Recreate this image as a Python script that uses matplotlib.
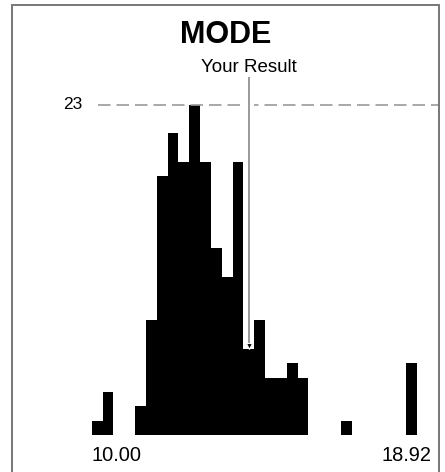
import numpy as np
import matplotlib.pyplot as plt
import matplotlib.patheffects as pe
from matplotlib.patches import Rectangle

# histogram data
x_min = 10.00
x_max = 18.92
counts = [1, 3, 0, 0, 2, 8, 18, 21, 19, 23, 19, 13, 11, 19, 6,
          8, 4, 4, 5, 4, 0, 0, 0, 1, 0, 0, 0, 0, 0, 5]
mode_count = 23
your_result = 14.32
title = 'MODE'
result_label = 'Your Result'

W, H = 445, 472
plt.rcParams['font.family'] = ['Liberation Sans', 'DejaVu Sans']

fig = plt.figure(figsize=(W / 100, H / 100), dpi=100)

# axes placed in pixels
left, right, bottom, top = 91.7, 416.7, 435, 104.5
ax = fig.add_axes([left / W, 1 - bottom / H, (right - left) / W, (bottom - top) / H])
edges = np.linspace(x_min, x_max, len(counts) + 1)
ax.stairs(counts, edges, fill=True, color='black')
ax.set_xlim(x_min, x_max)
ax.set_ylim(0, mode_count)
ax.axis('off')

# dashed line at the mode
ax.plot([0.019, 1.072], [mode_count, mode_count], transform=ax.get_yaxis_transform(),
        color='#999999', lw=1.2, dashes=(7.5, 3.6), clip_on=False)
ax.text(-0.03, mode_count, str(mode_count), transform=ax.get_yaxis_transform(),
        ha='right', va='center', fontsize=12.5)

# your result marker
bin_idx = np.searchsorted(edges, your_result) - 1
y_end = counts[bin_idx] + 0.3
line_top = 24.88
ax.plot([your_result, your_result], [y_end, line_top], color='#888888', lw=1.2,
        clip_on=False, solid_capstyle='butt',
        path_effects=[pe.Stroke(linewidth=6.5, foreground='white'), pe.Normal()])
ax.plot([your_result], [y_end - 0.1], marker='v', color='black', markersize=5,
        markeredgecolor='white', markeredgewidth=0.8, clip_on=False)
ax.text(your_result, 25.25, result_label, ha='center', va='baseline', fontsize=13.5)

# min / max labels
ax.text(0, -0.079, f'{x_min:.2f}', transform=ax.transAxes, ha='left', va='baseline',
        fontsize=14.4)
ax.text(1.047, -0.079, f'{x_max:.2f}', transform=ax.transAxes, ha='right',
        va='baseline', fontsize=14.4)

fig.text(226 / W, 1 - 43.3 / H, title, ha='center', va='baseline', fontsize=22,
         fontweight='bold')

# frame round the card
fig.patches.append(Rectangle((12 / W, -0.05), (439 - 12) / W, 1.05 - 5.5 / H,
                             transform=fig.transFigure, fill=False,
                             edgecolor='#777777', lw=1.4))

fig.savefig('out.png', dpi=100)
